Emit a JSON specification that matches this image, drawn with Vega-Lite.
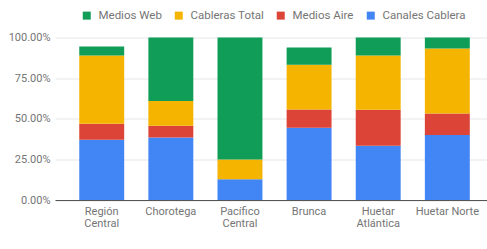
{
  "$schema": "https://vega.github.io/schema/vega-lite/v6.json",
  "width": 432,
  "height": 162.5,
  "autosize": {"type": "none"},
  "padding": {"left": 55, "top": 37.5, "right": 0, "bottom": 49},
  "background": "white",
  "config": {
    "view": {"stroke": null},
    "font": "Roboto"
  },
  "data": {
    "values": [
      {"region": "Región Central", "serie": "Canales Cablera", "orden": 1, "valor": 0.371},
      {"region": "Región Central", "serie": "Medios Aire", "orden": 2, "valor": 0.098},
      {"region": "Región Central", "serie": "Cableras Total", "orden": 3, "valor": 0.420},
      {"region": "Región Central", "serie": "Medios Web", "orden": 4, "valor": 0.056},
      {"region": "Chorotega", "serie": "Canales Cablera", "orden": 1, "valor": 0.385},
      {"region": "Chorotega", "serie": "Medios Aire", "orden": 2, "valor": 0.072},
      {"region": "Chorotega", "serie": "Cableras Total", "orden": 3, "valor": 0.153},
      {"region": "Chorotega", "serie": "Medios Web", "orden": 4, "valor": 0.390},
      {"region": "Pacífico Central", "serie": "Canales Cablera", "orden": 1, "valor": 0.127},
      {"region": "Pacífico Central", "serie": "Medios Aire", "orden": 2, "valor": 0.0},
      {"region": "Pacífico Central", "serie": "Cableras Total", "orden": 3, "valor": 0.123},
      {"region": "Pacífico Central", "serie": "Medios Web", "orden": 4, "valor": 0.750},
      {"region": "Brunca", "serie": "Canales Cablera", "orden": 1, "valor": 0.444},
      {"region": "Brunca", "serie": "Medios Aire", "orden": 2, "valor": 0.113},
      {"region": "Brunca", "serie": "Cableras Total", "orden": 3, "valor": 0.275},
      {"region": "Brunca", "serie": "Medios Web", "orden": 4, "valor": 0.106},
      {"region": "Huetar Atlántica", "serie": "Canales Cablera", "orden": 1, "valor": 0.334},
      {"region": "Huetar Atlántica", "serie": "Medios Aire", "orden": 2, "valor": 0.221},
      {"region": "Huetar Atlántica", "serie": "Cableras Total", "orden": 3, "valor": 0.334},
      {"region": "Huetar Atlántica", "serie": "Medios Web", "orden": 4, "valor": 0.111},
      {"region": "Huetar Norte", "serie": "Canales Cablera", "orden": 1, "valor": 0.400},
      {"region": "Huetar Norte", "serie": "Medios Aire", "orden": 2, "valor": 0.133},
      {"region": "Huetar Norte", "serie": "Cableras Total", "orden": 3, "valor": 0.399},
      {"region": "Huetar Norte", "serie": "Medios Web", "orden": 4, "valor": 0.068}
    ]
  },
  "mark": {"type": "bar"},
  "encoding": {
    "x": {
      "field": "region",
      "type": "nominal",
      "sort": ["Región Central", "Chorotega", "Pacífico Central", "Brunca", "Huetar Atlántica", "Huetar Norte"],
      "scale": {"paddingInner": 0.35, "paddingOuter": 0.3, "align": 0.585},
      "axis": {
        "title": "Nacional",
        "titleFont": "Roboto",
        "titleFontSize": 8,
        "titleFontWeight": "normal",
        "titleColor": "#222222",
        "titleY": 204.5,
        "titleX": 219,
        "titleBaseline": "top",
        "labelAngle": 0,
        "labelFont": "Roboto",
        "labelFontSize": 11,
        "labelColor": "#757575",
        "labelPadding": 5,
        "labelLineHeight": 12.5,
        "labelExpr": "datum.label == 'Región Central' ? ['Región', 'Central'] : datum.label == 'Pacífico Central' ? ['Pacífico', 'Central'] : datum.label == 'Huetar Atlántica' ? ['Huetar', 'Atlántica'] : datum.label",
        "ticks": false,
        "domainColor": "#555555",
        "domainWidth": 1,
        "grid": false
      }
    },
    "y": {
      "field": "valor",
      "type": "quantitative",
      "aggregate": "sum",
      "stack": "zero",
      "scale": {"domain": [0, 1], "nice": false},
      "axis": {
        "title": null,
        "values": [0, 0.25, 0.5, 0.75, 1],
        "format": ".2%",
        "labelFont": "Roboto",
        "labelFontSize": 11,
        "labelColor": "#757575",
        "labelPadding": 5,
        "ticks": false,
        "domain": false,
        "gridColor": "#e6e6e6",
        "gridWidth": 1
      }
    },
    "order": {"field": "orden", "type": "quantitative", "sort": "ascending"},
    "color": {
      "field": "serie",
      "type": "nominal",
      "scale": {
        "domain": ["Medios Web", "Cableras Total", "Medios Aire", "Canales Cablera"],
        "range": ["#0f9d58", "#f4b400", "#db4437", "#4285f4"]
      },
      "legend": {
        "title": null,
        "orient": "none",
        "direction": "horizontal",
        "legendX": 26,
        "legendY": -28,
        "symbolType": "square",
        "symbolSize": 64,
        "symbolStrokeWidth": 0,
        "symbolOpacity": 1,
        "labelFont": "Roboto",
        "labelFontSize": 11.5,
        "labelColor": "#757575",
        "labelOffset": 6,
        "columnPadding": 11
      }
    }
  }
}
